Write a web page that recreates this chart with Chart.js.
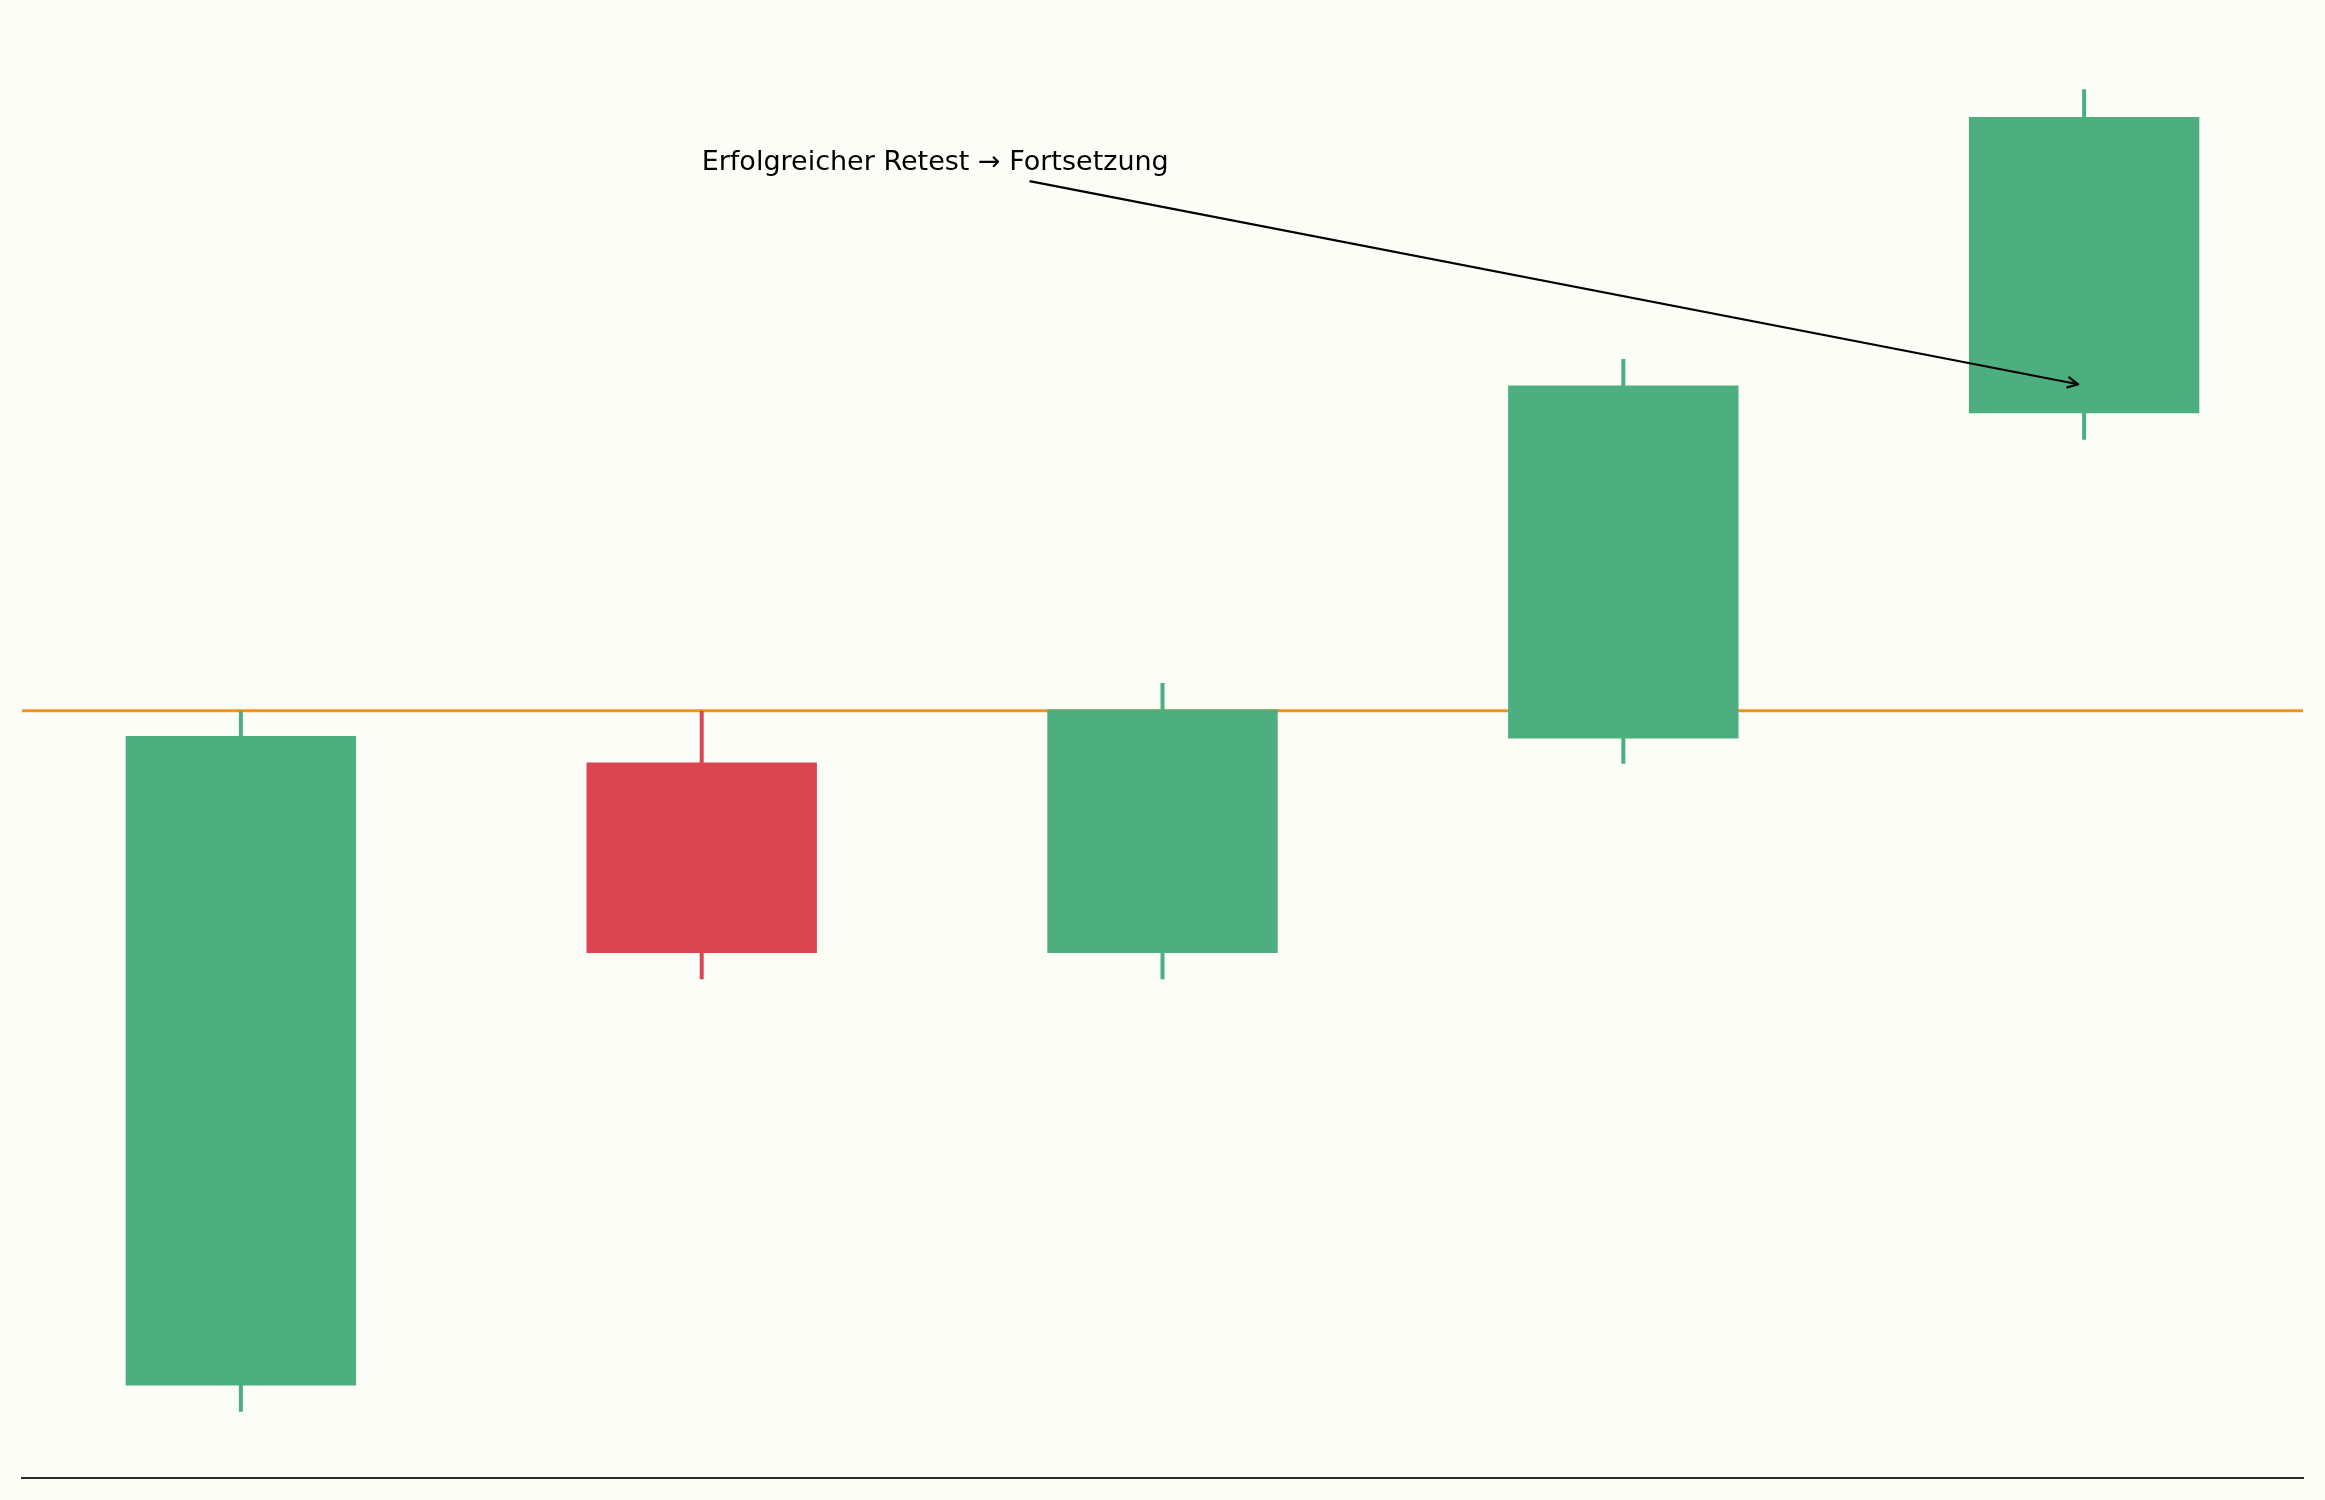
<!DOCTYPE html>
<html>
<head>
<meta charset="utf-8">
<script src="https://cdn.jsdelivr.net/npm/chart.js@4.4.1/dist/chart.umd.min.js"></script>
<style>
  html, body { margin: 0; padding: 0; background: #FDFDF8; }
  #wrap { width: 2325px; height: 1500px; }
</style>
</head>
<body>
<div id="wrap"><canvas id="c" width="2325" height="1500"></canvas></div>
<script>
// ---- data ----
const categories = ['Kerze 1', 'Kerze 2', 'Kerze 3', 'Kerze 4', 'Kerze 5'];
const opens  = [94.90, 99.61, 98.17, 99.79, 102.25];
const highs  = [100.00, 100.00, 100.21, 102.66, 104.70];
const lows   = [94.70, 97.97, 97.97, 99.60, 102.05];
const closes = [99.81, 98.17, 100.01, 102.46, 104.49];
const levelValue = 100.0;
const annotText = 'Erfolgreicher Retest \u2192 Fortsetzung';
const annotTextPos = [1.0, 104.09];
const arrowTarget = [4, 102.46];

// ---- styles ----
const UP = '#4DAF7F';
const DOWN = '#D94550';
const LEVEL = '#F39221';
const X_MIN = -0.475, X_MAX = 4.475;
const Y_MIN = 94.2, Y_MAX = 105.2;

const candleColors = opens.map((o, i) => closes[i] >= o ? UP : DOWN);
const bodyData = categories.map((_, i) => ({ x: i, y: [opens[i], closes[i]] }));
const wickData = categories.map((_, i) => ({ x: i, y: [lows[i], highs[i]] }));
const levelData = [{ x: X_MIN, y: levelValue }, { x: X_MAX, y: levelValue }];

const annotationPlugin = {
  id: 'annot',
  afterDatasetsDraw(chart) {
    const { ctx, scales: { x, y } } = chart;
    const fs = 27;
    ctx.save();
    ctx.font = fs + 'px "DejaVu Sans"';
    ctx.fillStyle = '#000000';
    ctx.textAlign = 'left';
    ctx.textBaseline = 'alphabetic';
    const tx = x.getPixelForValue(annotTextPos[0]);
    const ty = y.getPixelForValue(annotTextPos[1]);
    ctx.fillText(annotText, tx, ty);
    const w = ctx.measureText(annotText).width;
    const asc = 0.76 * fs, desc = 0.24 * fs, pad = 4.4, shrink = 2;
    const bx0 = tx - pad, bx1 = tx + w + pad, by0 = ty - asc - pad, by1 = ty + desc + pad;
    const cx = tx + w / 2, cy = ty + (desc - asc) / 2;
    const ex = x.getPixelForValue(arrowTarget[0]);
    const ey = y.getPixelForValue(arrowTarget[1]);
    const dx = ex - cx, dy = ey - cy;
    const len = Math.hypot(dx, dy);
    const ux = dx / len, uy = dy / len;
    const tX = ux > 0 ? (bx1 - cx) / ux : (ux < 0 ? (bx0 - cx) / ux : Infinity);
    const tY = uy > 0 ? (by1 - cy) / uy : (uy < 0 ? (by0 - cy) / uy : Infinity);
    const t0 = Math.min(tX, tY) + shrink;
    const sx = cx + ux * t0, sy = cy + uy * t0;
    const hx = ex - ux * 6, hy = ey - uy * 6;
    ctx.strokeStyle = '#000000';
    ctx.lineWidth = 2.2;
    ctx.lineCap = 'butt';
    ctx.lineJoin = 'round';
    ctx.beginPath();
    ctx.moveTo(sx, sy);
    ctx.lineTo(hx, hy);
    ctx.stroke();
    const hl = 11, hw = 5.5;
    const px = -uy, py = ux;
    ctx.beginPath();
    ctx.moveTo(hx - ux * hl + px * hw, hy - uy * hl + py * hw);
    ctx.lineTo(hx, hy);
    ctx.lineTo(hx - ux * hl - px * hw, hy - uy * hl - py * hw);
    ctx.stroke();
    ctx.restore();
  }
};

new Chart(document.getElementById('c'), {
  data: {
    datasets: [
      {
        type: 'bar',
        label: 'Körper',
        data: bodyData,
        backgroundColor: candleColors,
        borderWidth: 0,
        grouped: false,
        barPercentage: 0.5,
        categoryPercentage: 1.0,
        order: 1
      },
      {
        type: 'bar',
        label: 'Docht',
        data: wickData,
        backgroundColor: candleColors,
        borderWidth: 0,
        grouped: false,
        maxBarThickness: 4,
        order: 2
      },
      {
        type: 'line',
        label: 'Widerstand',
        data: levelData,
        borderColor: LEVEL,
        borderWidth: 3,
        pointRadius: 0,
        fill: false,
        order: 3
      }
    ]
  },
  options: {
    responsive: false,
    animation: false,
    devicePixelRatio: 1,
    layout: { padding: { left: 22, right: 22, top: 23, bottom: 22 } },
    plugins: { legend: { display: false }, tooltip: { enabled: false } },
    scales: {
      x: {
        type: 'linear',
        offset: false,
        min: X_MIN,
        max: X_MAX,
        afterBuildTicks: (scale) => { scale.ticks = categories.map((_, i) => ({ value: i })); },
        grid: { display: false, drawTicks: false, offset: false },
        ticks: { display: false },
        border: { display: true, color: '#2B2B2B', width: 2 }
      },
      y: {
        type: 'linear',
        display: false,
        min: Y_MIN,
        max: Y_MAX
      }
    }
  },
  plugins: [annotationPlugin]
});
</script>
</body>
</html>
